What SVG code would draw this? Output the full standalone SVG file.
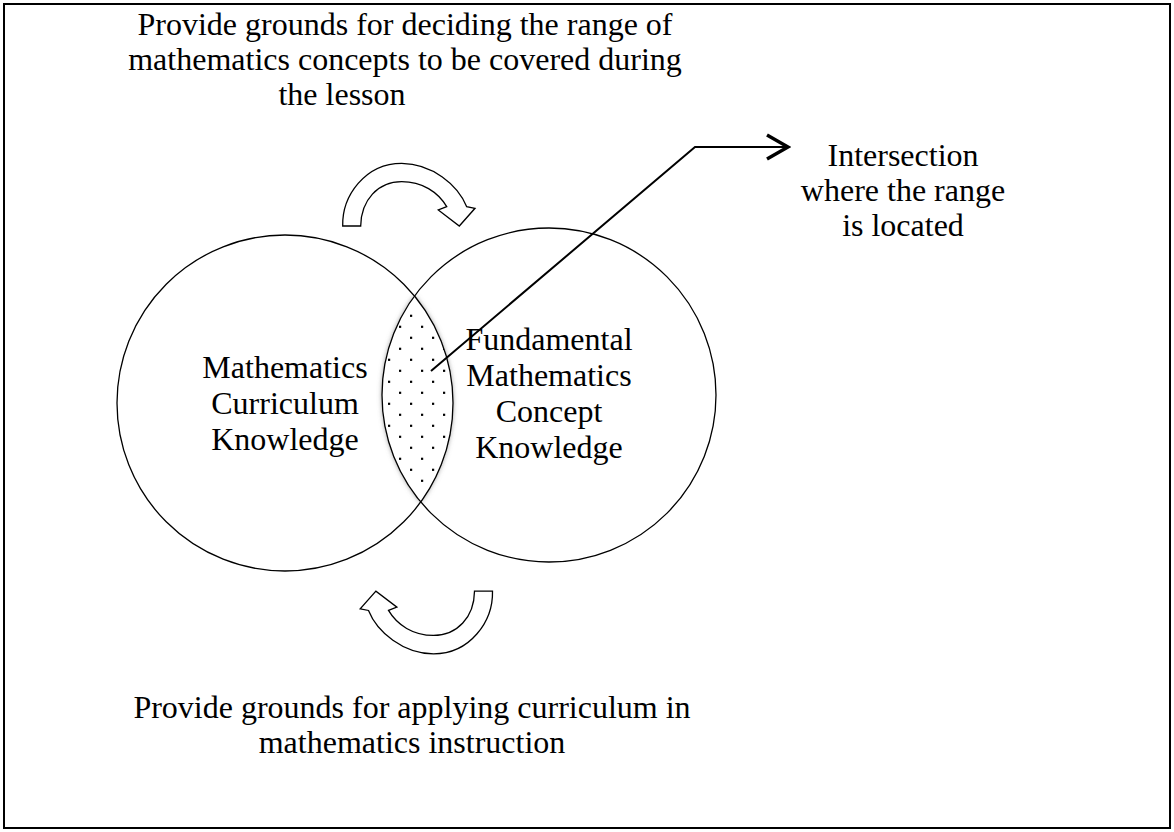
<svg xmlns="http://www.w3.org/2000/svg" xmlns:xlink="http://www.w3.org/1999/xlink" width="1174" height="832" viewBox="0 0 1174 832">
<defs>
<style>
.t{font-family:"Liberation Serif","Times New Roman",serif;font-size:32px;fill:#000;text-anchor:middle}
.c{fill:none;stroke:#000;stroke-width:1.3}
.ca{fill:#fff;stroke:#000;stroke-width:1.3;stroke-linejoin:miter}
</style>
<pattern id="dots" patternUnits="userSpaceOnUse" x="0" y="0" width="22" height="22">
<rect x="3" y="17.7" width="2.2" height="2.2" fill="#000"/>
<rect x="14" y="6.7" width="2.2" height="2.2" fill="#000"/>
</pattern>
<filter id="glow" x="-30%" y="-10%" width="160%" height="120%">
<feDropShadow dx="0" dy="0" stdDeviation="2.5" flood-color="#777" flood-opacity="0.8"/>
</filter>
<marker id="open" viewBox="0 0 26 28" refX="23" refY="14" markerWidth="26" markerHeight="28" markerUnits="userSpaceOnUse" orient="auto">
<polyline points="2,2 23,14 2,26" fill="none" stroke="#000" stroke-width="3.5" stroke-linejoin="miter"/>
</marker>
<path id="carrow" d="M 342.7 226 C 342 196 365 163.3 401.7 163.3 C 432 163.5 458 185 466.7 206.7 L 475 208.3 L 459.3 226 L 438.3 210 L 446.7 206.7 C 438 192 422 181.7 401.7 181.7 C 378 181.7 361 200 360.7 226 Z"/>
</defs>
<rect x="0" y="0" width="1174" height="832" fill="#fff"/>
<rect x="4" y="4" width="1166" height="824" fill="none" stroke="#000" stroke-width="2"/>

<g id="label-top">
<text class="t" x="405" y="35">Provide grounds for deciding the range of</text>
<text class="t" x="405" y="70">mathematics concepts to be covered during</text>
<text class="t" x="342" y="105">the lesson</text>
</g>

<g id="arrow-top">
<use xlink:href="#carrow" class="ca"/>
</g>
<g id="arrow-bottom">
<use xlink:href="#carrow" class="ca" transform="rotate(180 417.6 408.575)"/>
</g>

<g id="intersection">
<path d="M 414.5 296 A 167 167 0 0 0 420.7 502 A 168 168 0 0 0 414.5 296 Z" fill="#fff" filter="url(#glow)"/>
<path d="M 414.5 296 A 167 167 0 0 0 420.7 502 A 168 168 0 0 0 414.5 296 Z" fill="url(#dots)"/>
</g>

<g id="circle-curriculum">
<circle class="c" cx="285" cy="403" r="168"/>
<text class="t" x="285" y="378">Mathematics</text>
<text class="t" x="285" y="414">Curriculum</text>
<text class="t" x="285" y="450">Knowledge</text>
</g>

<g id="circle-concept">
<circle class="c" cx="549" cy="395" r="167"/>
<text class="t" x="549" y="350">Fundamental</text>
<text class="t" x="549" y="386">Mathematics</text>
<text class="t" x="549" y="422">Concept</text>
<text class="t" x="549" y="458">Knowledge</text>
</g>

<g id="connectors">
<polyline points="431,371 695,147 788,147" fill="none" stroke="#000" stroke-width="2" marker-end="url(#open)"/>
</g>

<g id="label-intersection">
<text class="t" x="903" y="166">Intersection</text>
<text class="t" x="903" y="201">where the range</text>
<text class="t" x="903" y="236">is located</text>
</g>

<g id="label-bottom">
<text class="t" x="412" y="718">Provide grounds for applying curriculum in</text>
<text class="t" x="412" y="753">mathematics instruction</text>
</g>
</svg>
